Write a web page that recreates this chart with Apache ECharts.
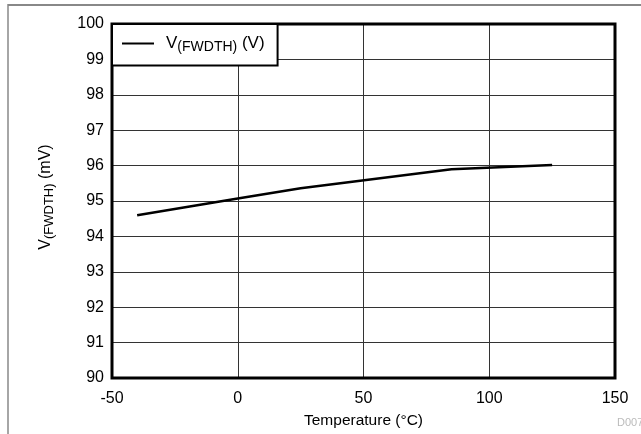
<!DOCTYPE html>
<html><head><meta charset="utf-8">
<script src="https://cdn.jsdelivr.net/npm/echarts@6/dist/echarts.min.js"></script>
<style>html,body{margin:0;padding:0;background:#fff}#c{width:641px;height:434px}</style>
</head><body><div id="c"></div>
<script>
const temperatures = [-40, 0, 25, 85, 125];
const vfwdth = [94.6, 95.07, 95.36, 95.9, 96.02];
const xTicks = [-50, 0, 50, 100, 150];
const yTicks = [90, 91, 92, 93, 94, 95, 96, 97, 98, 99, 100];

const font = 'Liberation Sans, Arial, Helvetica, sans-serif';
const richSub = {a: {fontSize: 16, fontFamily: font, color: '#000'},
                 b: {fontSize: 13, fontFamily: font, color: '#000', padding: [8, 0, 0, 0]}};
const richLegend = {a: {fontSize: 17, fontFamily: font, color: '#000'},
                    b: {fontSize: 14, fontFamily: font, color: '#000', padding: [8, 0, 0, 0]}};
const chart = echarts.init(document.getElementById('c'), null, {renderer: 'canvas'});
chart.setOption({
  animation: false,
  backgroundColor: '#fff',
  grid: {left: 112, right: 26, top: 24, bottom: 55, show: true, borderColor: '#000', borderWidth: 3, backgroundColor: 'transparent', z: 3},
  xAxis: {
    type: 'value', min: xTicks[0], max: xTicks[xTicks.length-1], interval: 50,
    axisLine: {show: false}, axisTick: {show: false},
    splitLine: {show: true, lineStyle: {color: '#333', width: 1}},
    axisLabel: {color: '#000', fontSize: 16, fontFamily: font, margin: 13},
    name: 'Temperature (°C)', nameLocation: 'middle', nameGap: 35,
    nameTextStyle: {color: '#000', fontSize: 15.5, fontFamily: font}
  },
  yAxis: {
    type: 'value', min: yTicks[0], max: yTicks[yTicks.length-1], interval: 1,
    axisLine: {show: false}, axisTick: {show: false},
    splitLine: {show: true, lineStyle: {color: '#333', width: 1}},
    axisLabel: {color: '#000', fontSize: 16, fontFamily: font, margin: 8},
    name: '{a|V}{b|(FWDTH)}{a| (mV)}', nameLocation: 'middle', nameGap: 56, nameRotate: 90,
    nameTextStyle: {color: '#000', fontFamily: font, rich: richSub, padding: [0, 0, 0, 8]}
  },
  legend: {
    left: 112, top: 24, orient: 'vertical',
    backgroundColor: '#fff', borderColor: '#000', borderWidth: 2, borderRadius: 0,
    padding: [11, 13, 11, 10], itemWidth: 32, itemHeight: 2, icon: 'rect', itemGap: 0,
    textStyle: {color: '#000', fontFamily: font, padding: [0, 0, 0, 7], rich: richLegend},
    formatter: () => '{a|V}{b|(FWDTH)}{a| (V)}',
    data: ['V(FWDTH) (V)']
  },
  series: [{
    name: 'V(FWDTH) (V)', type: 'line', symbol: 'none',
    lineStyle: {color: '#000', width: 2.5}, itemStyle: {color: '#000'},
    data: temperatures.map((t, i) => [t, vfwdth[i]]), z: 4
  }],
  graphic: [
    {type: 'line', shape: {x1: 8, y1: 5, x2: 641, y2: 5}, style: {stroke: '#888', lineWidth: 2}},
    {type: 'line', shape: {x1: 8, y1: 4, x2: 8, y2: 434}, style: {stroke: '#888', lineWidth: 1.5}},
    {type: 'text', left: 617, top: 417, style: {text: 'D007', fill: '#bbb', fontSize: 11, fontFamily: font}}
  ]
});
</script></body></html>
